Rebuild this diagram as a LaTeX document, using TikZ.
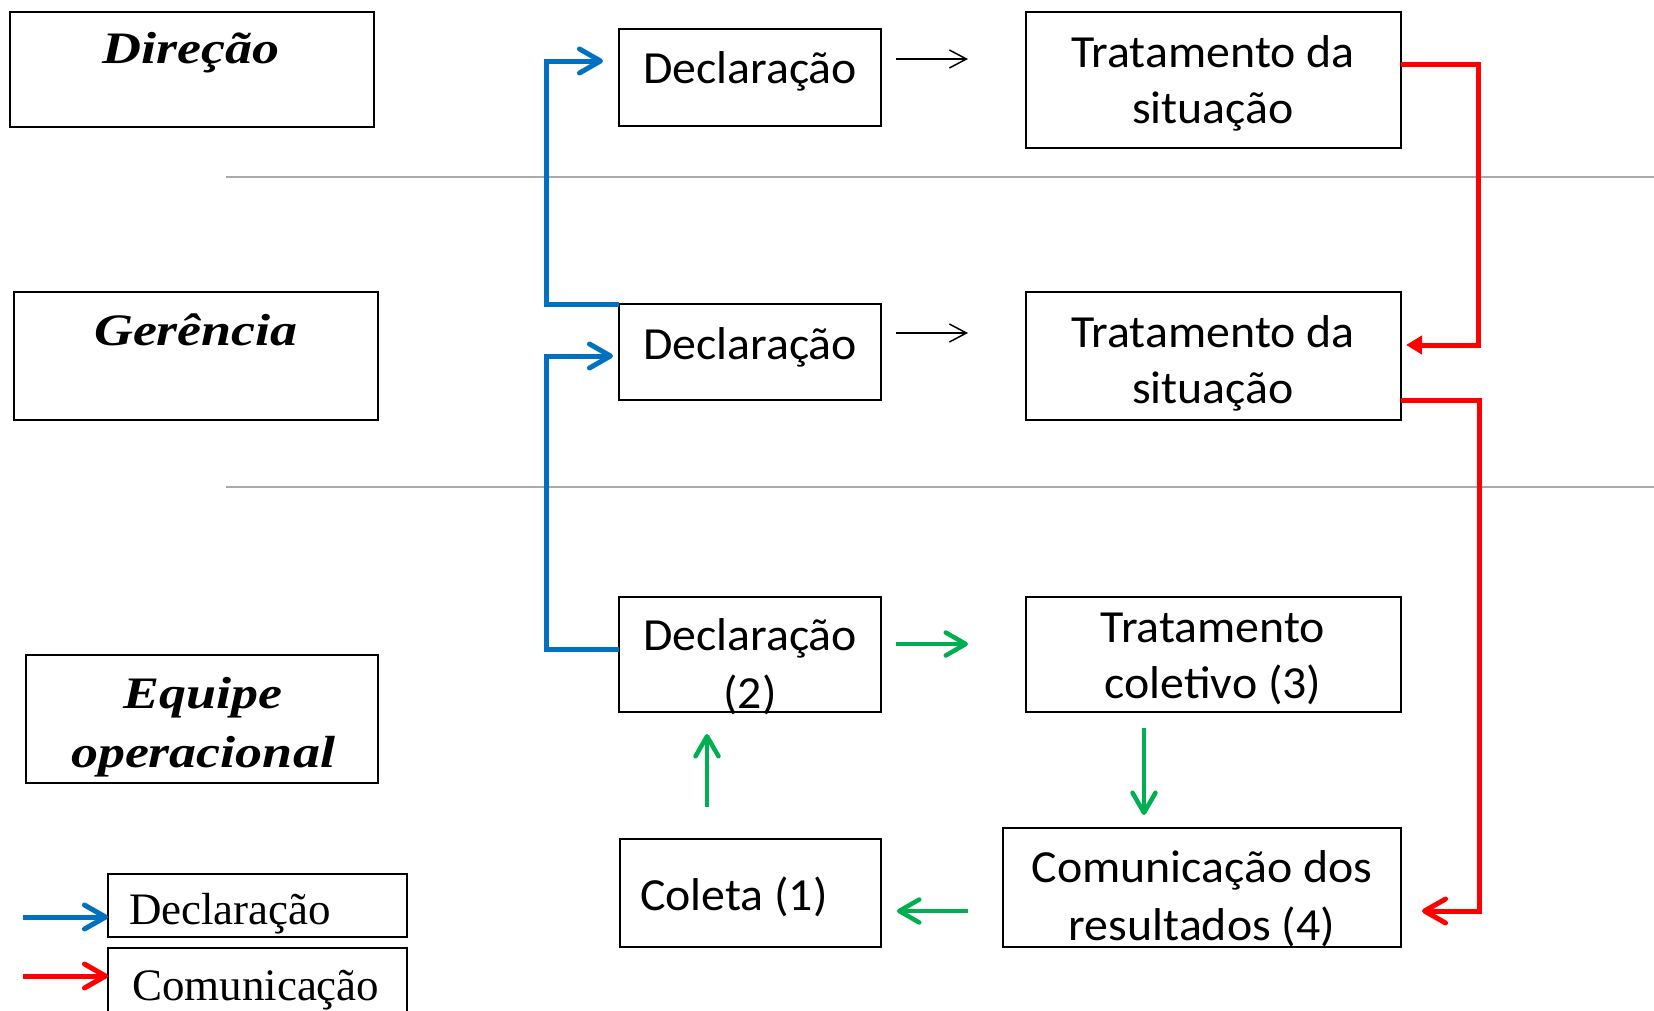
\documentclass[tikz,border=0pt]{standalone}
\usepackage{fontspec}
\setmainfont{Carlito}[FakeStretch=1.04]
\newfontfamily\serifleg{Liberation Serif}
\newfontfamily\seriflbl[FakeStretch=1.2]{Liberation Serif}
\usetikzlibrary{arrows.meta}
\definecolor{dblue}{RGB}{0,112,192}
\definecolor{dred}{RGB}{255,0,0}
\definecolor{dgreen}{RGB}{0,176,80}
\definecolor{lgray}{RGB}{170,170,170}
\tikzset{
  box/.style={draw=black, line width=1.6pt, inner sep=0pt, outer sep=0pt},
  txt/.style={inner sep=0pt, outer sep=0pt, anchor=base, font=\fontsize{46}{56}\selectfont},
  txtw/.style={inner sep=0pt, outer sep=0pt, anchor=base west, font=\fontsize{46}{56}\selectfont},
  lbl/.style={inner sep=0pt, outer sep=0pt, anchor=base, font=\seriflbl\bfseries\itshape\fontsize{45}{56}\selectfont},
  legtxt/.style={inner sep=0pt, outer sep=0pt, anchor=base west, font=\serifleg\fontsize{45}{52}\selectfont},
  sep/.style={draw=lgray, line width=2pt},
  blkarr/.style={draw=black, line width=1.5pt, -{Straight Barb[length=17pt,width=18pt]}},
  bluearr/.style={draw=dblue, line width=5pt, -{Straight Barb[length=21pt,width=24pt,round]}},
  redarr/.style={draw=dred, line width=5pt, -{Straight Barb[length=21pt,width=24pt,round]}},
  redtri/.style={draw=dred, line width=5pt, -{Triangle[length=16pt,width=18pt]}},
  grnarr/.style={draw=dgreen, line width=4.5pt, -{Straight Barb[length=20pt,width=23pt,round]}},
}
\begin{document}
\begin{tikzpicture}[x=1pt,y=-1pt]
\useasboundingbox (0,0) rectangle (1654,1010);
\clip (0,0) rectangle (1654,1010);

% separators
\draw[sep] (226,177) -- (1654,177);
\draw[sep] (226,487) -- (1654,487);

% level boxes
\node[box, minimum width=364pt, minimum height=115pt] (dir) at (192,69.5) {};
\node[lbl] (dirT) at (191,63) {Direção};
\node[box, minimum width=364pt, minimum height=128pt] (ger) at (196,356) {};
\node[lbl] (gerT) at (196,345) {Gerência};
\node[box, minimum width=352pt, minimum height=128pt] (equ) at (202,719) {};
\node[lbl] (equT1) at (203,708) {Equipe};
\node[lbl] (equT2) at (203,767) {operacional};

% legend
\node[box, minimum width=299pt, minimum height=63pt] (legD) at (257.5,905.5) {};
\node[legtxt] (legDT) at (129,924) {Declaração};
\node[box, minimum width=299pt, minimum height=82pt] (legC) at (257.5,989) {};
\node[legtxt] (legCT) at (132,1000) {Comunicação};
\draw[bluearr] (23,917) -- ([yshift=-11.5pt]legD.west);
\draw[redarr] (23,976) -- ([yshift=13pt]legC.west);

% Declaração column
\node[box, minimum width=262pt, minimum height=97pt] (declT) at (750,77.5) {};
\node[txt] (declTT) at (750,83) {Declaração};
\node[box, minimum width=262pt, minimum height=96pt] (declM) at (750,352) {};
\node[txt] (declMT) at (750,359) {Declaração};
\node[box, minimum width=262pt, minimum height=115pt] (declB) at (750,654.5) {};
\node[txt] (declBT1) at (750,650) {Declaração};
\node[txt] (declBT2) at (750,708) {(2)};
\node[box, minimum width=261pt, minimum height=108pt] (col) at (750.5,893) {};
\node[txtw] (colT) at (640,910) {Coleta (1)};

% Tratamento column
\node[box, minimum width=375pt, minimum height=136pt] (tratT) at (1213.5,80) {};
\node[txt] (tratTT1) at (1213,67) {Tratamento da};
\node[txt] (tratTT2) at (1213,123) {situação};
\node[box, minimum width=375pt, minimum height=128pt] (tratM) at (1213.5,356) {};
\node[txt] (tratMT1) at (1213,347) {Tratamento da};
\node[txt] (tratMT2) at (1213,403) {situação};
\node[box, minimum width=375pt, minimum height=115pt] (tratC) at (1213.5,654.5) {};
\node[txt] (tratCT1) at (1213,642) {Tratamento};
\node[txt] (tratCT2) at (1213,698) {coletivo (3)};
\node[box, minimum width=398pt, minimum height=119pt] (com) at (1202,887.5) {};
\node[txt] (comT1) at (1202,882) {Comunicação dos};
\node[txt] (comT2) at (1202,940) {resultados (4)};

% black arrows
\coordinate (k1s) at (896,59);  \coordinate (k1e) at (968,59);
\coordinate (k2s) at (896,333); \coordinate (k2e) at (968,333);
\draw[blkarr] (k1s) -- (k1e);
\draw[blkarr] (k2s) -- (k2e);

% green arrows
\coordinate (g1s) at (896,644);  \coordinate (g1e) at (968,644);
\coordinate (g2s) at (1144,728); \coordinate (g2e) at (1144,815);
\coordinate (g3s) at (968,911);  \coordinate (g3e) at (897,911);
\coordinate (g4s) at (707,807);  \coordinate (g4e) at (707,734);
\draw[grnarr] (g1s) -- (g1e);
\draw[grnarr] (g2s) -- (g2e);
\draw[grnarr] (g3s) -- (g3e);
\draw[grnarr] (g4s) -- (g4e);

% blue connectors
\coordinate (tipT) at (603,61);
\coordinate (tipM) at (613,356);
\draw[bluearr] (declM.north west) -- ++(-73,0) |- (tipT);
\draw[bluearr] ([yshift=5.5pt]declB.west) -- ++(-73,0) |- (tipM);

% red connectors
\coordinate (tipR1) at (1406,345);
\coordinate (tipR2) at (1422,911);
\draw[redtri] ([yshift=16pt]tratT.east) -- ++(77,0) |- (tipR1);
\draw[redarr] ([yshift=-44pt]tratM.east) -- ++(78,0) |- (tipR2);
\end{tikzpicture}
\end{document}
